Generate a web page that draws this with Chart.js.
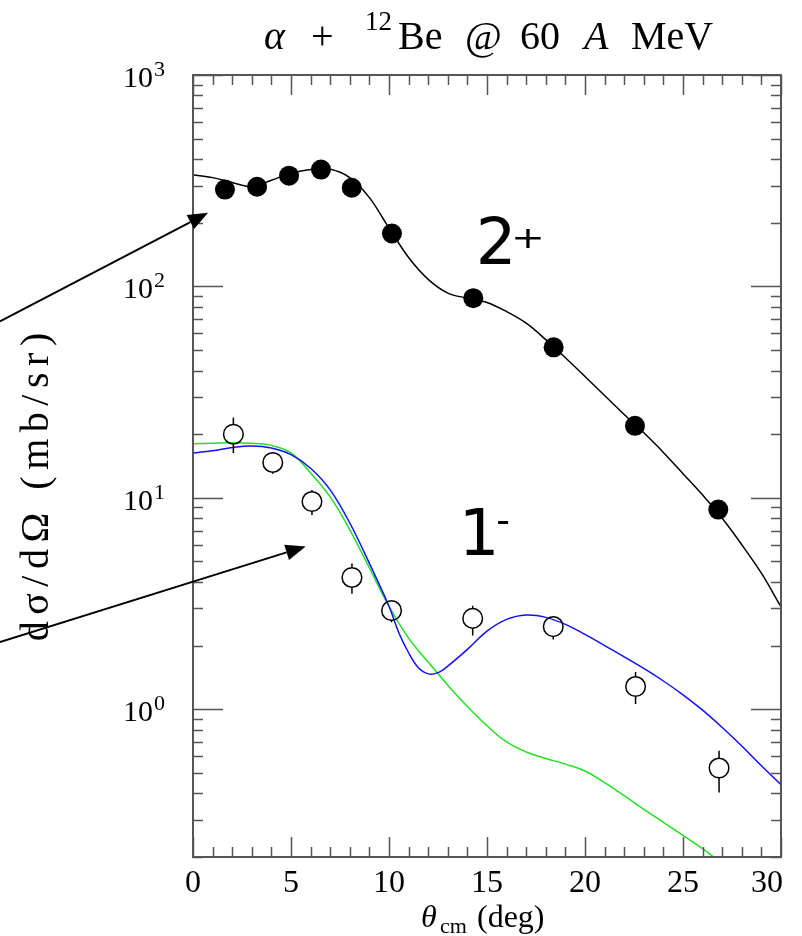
<!DOCTYPE html>
<html>
<head>
<meta charset="utf-8">
<title>alpha + 12Be @ 60 A MeV</title>
<script src="https://cdn.jsdelivr.net/npm/chart.js@4/dist/chart.umd.min.js"></script>
<style>
  html, body { margin: 0; padding: 0; background: #ffffff; }
  #c { display: block; width: 802px; height: 936px; }
</style>
</head>
<body>
<canvas id="c" width="802" height="936"></canvas>
<script>
// ---- 2+ state: measured cross sections (mb/sr) ----
const angles2p = [1.63, 3.27, 4.9, 6.53, 8.1, 10.15, 14.3, 18.4, 22.55, 26.8];
const sigma2p  = [287, 296, 334, 357, 293, 178, 88, 51.5, 21.9, 8.8];

// ---- 1- state: measured cross sections with error limits ----
const angles1m  = [2.06, 4.07, 6.07, 8.11, 10.13, 14.27, 18.38, 22.58, 26.84];
const sigma1m   = [20.0, 14.7, 9.6, 4.2, 2.93, 2.69, 2.46, 1.28, 0.527];
const err1mHigh = [24.0, 16.2, 10.9, 4.89, 3.27, 3.09, 2.75, 1.50, 0.636];
const err1mLow  = [16.3, 13.0, 8.3, 3.52, 2.58, 2.23, 2.14, 1.06, 0.404];

// ---- calculations ----
const anglesCalc2p = [0,1,2,3,4,5,6,7,8,9,10,11,12,13,14,15,16,17,18,19,20,21,22,23,24,25,26,27,28,29,30];
const calc2p       = [337,327,310,297,318,343,357,358,327,263,189,137,108,93,88,84,76,67,56,46,37.5,30.5,24.8,20.3,16.4,13.0,10.3,8.0,6.0,4.4,3.05];

const anglesBlue = [0,1,2,3,4,5,6,7,8,9,10,10.5,11,11.5,12,12.5,13,14,15,16,17,18,19,20,21,22,23,24,25,26,27,28,29,30];
const calcBlue   = [16.3,16.7,17.3,17.6,17.2,16.0,13.8,10.9,7.6,4.9,3.07,2.3,1.85,1.57,1.47,1.49,1.60,1.92,2.34,2.66,2.79,2.72,2.52,2.26,2.0,1.77,1.56,1.36,1.17,0.99,0.82,0.67,0.54,0.44];

const anglesGreen = [0,1,2,3,4,5,6,7,8,9,10,11,12,13,14,15,16,17,18,19,20,21,22,23,24,25,26,27];
const calcGreen   = [18.0,18.1,18.2,18.1,17.7,16.3,13.1,10.1,7.06,4.66,3.07,2.17,1.67,1.30,1.03,0.835,0.70,0.628,0.585,0.55,0.51,0.45,0.39,0.336,0.292,0.253,0.219,0.186];

// ---- axes ----
const xMin = 0, xMax = 30;
const yMin = 0.2, yMax = 1000;
const xTickLabels = [0, 5, 10, 15, 20, 25, 30];
const yLabelPowers = [0, 1, 2, 3];

// ---- annotation arrows (start and tip in angle / cross-section units) ----
const arrows = [
  { from: [-9.85, 68.3], to: [0.77, 223] },
  { from: [-9.85, 2.08], to: [5.75, 5.89] }
];

const SERIF = '"Liberation Serif", "Times New Roman", serif';
const SANS = '"DejaVu Sans", Verdana, sans-serif';
const AXIS_GREY = '#555555';

const toXY = (xs, ys) => xs.map((x, i) => ({ x: x, y: ys[i] }));

function drawArrow(ctx, x0, y0, x1, y1) {
  const ang = Math.atan2(y1 - y0, x1 - x0);
  const headLen = 20, headHalf = 8;
  const bx = x1 - headLen * Math.cos(ang), by = y1 - headLen * Math.sin(ang);
  ctx.beginPath();
  ctx.moveTo(x0, y0);
  ctx.lineTo(bx, by);
  ctx.stroke();
  ctx.beginPath();
  ctx.moveTo(x1, y1);
  ctx.lineTo(bx + headHalf * Math.sin(ang), by - headHalf * Math.cos(ang));
  ctx.lineTo(bx - headHalf * Math.sin(ang), by + headHalf * Math.cos(ang));
  ctx.closePath();
  ctx.fill();
}

const errorBars = {
  id: 'errorBars',
  afterDatasetsDraw(chart) {
    const { ctx, scales: { x, y } } = chart;
    const r = 10;
    ctx.save();
    ctx.strokeStyle = '#000';
    ctx.lineWidth = 1.5;
    angles1m.forEach((a, i) => {
      const px = x.getPixelForValue(a);
      const cy = y.getPixelForValue(sigma1m[i]);
      const top = y.getPixelForValue(err1mHigh[i]);
      const bot = y.getPixelForValue(err1mLow[i]);
      ctx.beginPath();
      if (top < cy - r) { ctx.moveTo(px, top); ctx.lineTo(px, cy - r); }
      if (bot > cy + r) { ctx.moveTo(px, cy + r); ctx.lineTo(px, bot); }
      ctx.stroke();
    });
    ctx.restore();
  }
};

const frame = {
  id: 'frame',
  afterDraw(chart) {
    const { ctx, chartArea: a, scales: { x, y } } = chart;
    ctx.save();

    // frame and inward ticks
    ctx.strokeStyle = AXIS_GREY;
    ctx.lineWidth = 1.5;
    ctx.beginPath();
    for (let v = xMin; v <= xMax; v += 1) {
      const px = Math.round(x.getPixelForValue(v)) + 0.5;
      const len = (v % 5 === 0) ? 20 : 10;
      ctx.moveTo(px, a.bottom); ctx.lineTo(px, a.bottom - len);
      ctx.moveTo(px, a.top); ctx.lineTo(px, a.top + len);
    }
    for (let p = -1; p <= 3; p++) {
      for (let m = 1; m <= 9; m++) {
        const v = m * Math.pow(10, p);
        if (v < yMin - 1e-9 || v > yMax + 1e-9) continue;
        const py = Math.round(y.getPixelForValue(v)) + 0.5;
        const len = (m === 1) ? 30 : 10;
        ctx.moveTo(a.left, py); ctx.lineTo(a.left + len, py);
        ctx.moveTo(a.right, py); ctx.lineTo(a.right - len, py);
      }
    }
    ctx.stroke();
    ctx.lineWidth = 2;
    ctx.strokeRect(a.left, a.top, a.right - a.left, a.bottom - a.top);

    // tick labels
    ctx.fillStyle = '#000';
    ctx.font = '32px ' + SERIF;
    ctx.textBaseline = 'alphabetic';
    xTickLabels.forEach((v, i) => {
      const px = x.getPixelForValue(v);
      if (i === xTickLabels.length - 1) {
        ctx.textAlign = 'right';
        ctx.fillText(String(v), px + 2, 892);
      } else {
        ctx.textAlign = 'center';
        ctx.fillText(String(v), px, 892);
      }
    });
    yLabelPowers.forEach(p => {
      const py = y.getPixelForValue(Math.pow(10, p));
      ctx.font = '30px ' + SERIF;
      ctx.textAlign = 'right';
      ctx.fillText('10', 153, py + 12);
      ctx.font = '22px ' + SERIF;
      ctx.textAlign = 'left';
      ctx.fillText(String(p), 154, py + 1);
    });

    // axis titles
    ctx.textAlign = 'left';
    ctx.font = 'italic 32px ' + SERIF;
    ctx.fillText('θ', 421, 927);
    ctx.font = '22px ' + SERIF;
    ctx.fillText('cm', 440, 933);
    ctx.font = '32px ' + SERIF;
    ctx.fillText('(deg)', 477, 927);

    ctx.save();
    ctx.translate(48, 487);
    ctx.rotate(-Math.PI / 2);
    ctx.font = '40px ' + SERIF;
    const yTitle = 'dσ/dΩ (mb/sr)';
    const w0 = ctx.measureText(yTitle).width;
    const sp = Math.max(0, (315 - w0) / yTitle.length);
    ctx.letterSpacing = sp.toFixed(2) + 'px';
    ctx.textAlign = 'center';
    ctx.fillText(yTitle, sp / 2, 0);
    ctx.restore();

    // chart title
    const base = 49;
    const parts = [
      { t: 'α',   x: 264, f: 'italic 40px ' + SERIF, b: base },
      { t: '+',   x: 311, f: '40px ' + SERIF, b: base },
      { t: '12',  x: 365, f: '27px ' + SERIF, b: base - 19 },
      { t: 'Be',  x: 398, f: '40px ' + SERIF, b: base },
      { t: '@',   x: 465, f: '40px ' + SERIF, b: base },
      { t: '60',  x: 520, f: '40px ' + SERIF, b: base },
      { t: 'A',   x: 584, f: 'italic 40px ' + SERIF, b: base },
      { t: 'MeV', x: 631, f: '40px ' + SERIF, b: base }
    ];
    parts.forEach(pt => { ctx.font = pt.f; ctx.fillText(pt.t, pt.x, pt.b); });

    // state labels
    ctx.textAlign = 'center';
    ctx.font = '64px ' + SANS;
    ctx.fillText('2', 496, 264);
    ctx.fillText('1', 479, 555);
    ctx.save();
    ctx.translate(528, 248);
    ctx.scale(1.35, 1);
    ctx.font = '30px ' + SANS;
    ctx.fillText('+', 0, 0);
    ctx.restore();
    ctx.font = '38px ' + SANS;
    ctx.fillText('-', 503, 533);

    // arrows
    ctx.strokeStyle = '#000';
    ctx.fillStyle = '#000';
    ctx.lineWidth = 2;
    arrows.forEach(ar => {
      drawArrow(ctx,
        x.getPixelForValue(ar.from[0]), y.getPixelForValue(ar.from[1]),
        x.getPixelForValue(ar.to[0]), y.getPixelForValue(ar.to[1]));
    });

    ctx.restore();
  }
};

const curveStyle = (color, tension) => ({
  showLine: true, borderColor: color, borderWidth: 1.5,
  pointRadius: 0, tension: tension, fill: false, order: 2
});

new Chart(document.getElementById('c').getContext('2d'), {
  type: 'scatter',
  data: {
    datasets: [
      Object.assign({ label: '2+ calc', data: toXY(anglesCalc2p, calc2p) }, curveStyle('#000000', 0.35)),
      Object.assign({ label: '1- calc (blue)', data: toXY(anglesBlue, calcBlue) }, curveStyle('#1010ff', 0.35)),
      Object.assign({ label: '1- calc (green)', data: toXY(anglesGreen, calcGreen) }, curveStyle('#22e022', 0.4)),
      {
        label: '2+ data', data: toXY(angles2p, sigma2p), showLine: false,
        pointRadius: 10, pointBackgroundColor: '#000', pointBorderColor: '#000',
        pointBorderWidth: 0, order: 1
      },
      {
        label: '1- data', data: toXY(angles1m, sigma1m), showLine: false,
        pointRadius: 9.8, pointBackgroundColor: 'rgba(0,0,0,0)', pointBorderColor: '#000',
        pointBorderWidth: 1.5, order: 1
      }
    ]
  },
  options: {
    responsive: false,
    animation: false,
    devicePixelRatio: 1,
    events: [],
    layout: { padding: { left: 193, right: 21, top: 75, bottom: 79 } },
    plugins: {
      legend: { display: false },
      tooltip: { enabled: false },
      title: { display: false }
    },
    scales: {
      x: { type: 'linear', min: xMin, max: xMax, display: false },
      y: { type: 'logarithmic', min: yMin, max: yMax, display: false }
    }
  },
  plugins: [errorBars, frame]
});
</script>
</body>
</html>
